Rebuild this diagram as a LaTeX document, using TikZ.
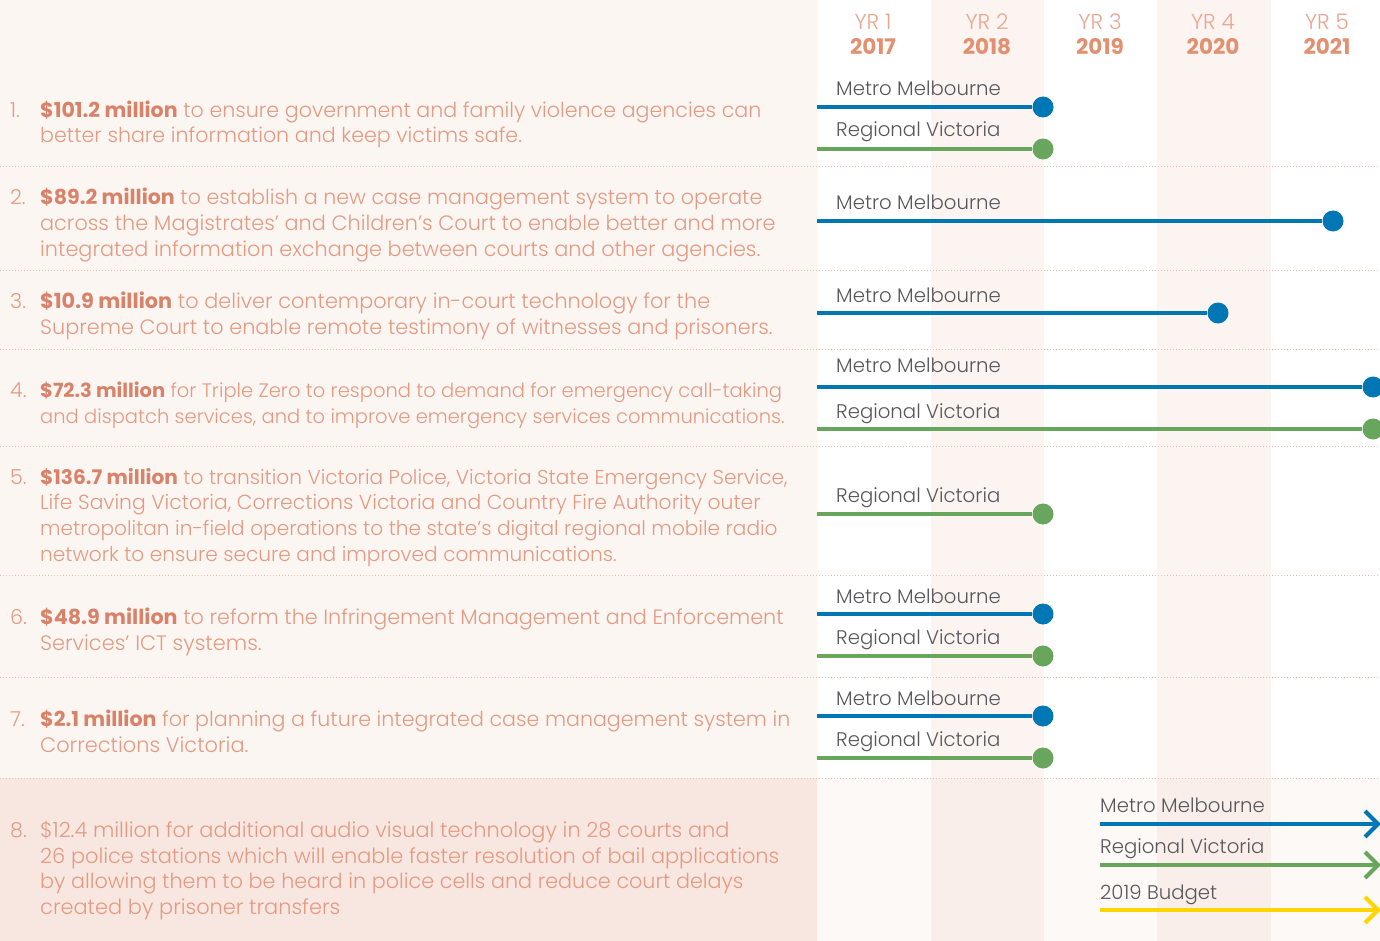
\documentclass[tikz,border=0pt]{standalone}
\usepackage{fontspec}
\setmainfont{Poppins}[UprightFont=*-Light,BoldFont=*-Bold]
\usetikzlibrary{positioning}
\definecolor{leftbg}{HTML}{FCF6F3}
\definecolor{pinkcol}{HTML}{FCF4F1}
\definecolor{rowleft}{HTML}{F8E7E0}
\definecolor{rowwhite}{HTML}{FDF9F7}
\definecolor{rowpink}{HTML}{F9EEE9}
\definecolor{bodytxt}{HTML}{E49A82}
\definecolor{amttxt}{HTML}{D9826A}
\definecolor{yrtxt}{HTML}{EBA58F}
\definecolor{yeartxt}{HTML}{E2906F}
\definecolor{labtxt}{HTML}{58585B}
\definecolor{mblue}{HTML}{0077B5}
\definecolor{rgreen}{HTML}{67A65C}
\definecolor{byellow}{HTML}{FFD500}
\definecolor{sepcol}{HTML}{F2BFAC}
\newcommand\amt[1]{{\bfseries\color{amttxt}#1}}
\tikzset{
  body/.style={anchor=base west,inner sep=0pt,text=bodytxt,font=\fontsize{#1}{25}\selectfont},
  body/.default=20.6,
  lab/.style={anchor=base west,inner sep=0pt,text=labtxt,font=\fontsize{19.7}{22}\selectfont},
  yr/.style={anchor=base,inner sep=0pt,text=yrtxt,font=\fontsize{21.5}{22}\selectfont},
  year/.style={anchor=base,inner sep=0pt,text=yeartxt,font=\fontsize{21.5}{22}\selectfont\bfseries},
  sep/.style={draw=sepcol,line width=1pt,dotted},
  bline/.style={draw=mblue,line width=4pt},
  gline/.style={draw=rgreen,line width=4pt},
  yline/.style={draw=byellow,line width=4pt},
  bdot/.style={circle,fill=mblue,minimum size=21pt,inner sep=0pt},
  gdot/.style={circle,fill=rgreen,minimum size=21pt,inner sep=0pt},
  chev/.style={line width=4pt,line cap=butt,line join=miter}
}
\begin{document}
\begin{tikzpicture}[x=1pt,y=-1pt]
\useasboundingbox (0,0) rectangle (1380,941);
% backgrounds
\fill[leftbg] (0,0) rectangle (817,778);
\fill[white] (817,0) rectangle (1380,778);
\fill[pinkcol] (931,0) rectangle (1044,778);
\fill[pinkcol] (1157,0) rectangle (1271,778);
\fill[rowleft] (0,778) rectangle (817,941);
\fill[rowwhite] (817,778) rectangle (1380,941);
\fill[rowpink] (931,778) rectangle (1044,941);
\fill[rowpink] (1157,778) rectangle (1271,941);
% separators
\foreach \yy in {167,270,349,446,575,677,778} \draw[sep] (0,\yy) -- (1380,\yy);
% header
\node[yr] (y1) at (873,30) {YR 1};
\node[year] (yy1) at (873,55) {2017};
\node[yr] (y2) at (987,30) {YR 2};
\node[year] (yy2) at (987,55) {2018};
\node[yr] (y3) at (1100,30) {YR 3};
\node[year] (yy3) at (1100,55) {2019};
\node[yr] (y4) at (1213,30) {YR 4};
\node[year] (yy4) at (1213,55) {2020};
\node[yr] (y5) at (1327,30) {YR 5};
\node[year] (yy5) at (1327,55) {2021};
% row texts
\node[body] (n1) at (10,118) {1.};
\node[body] (t1a) at (40,118) {\amt{\$101.2 million} to ensure government and family violence agencies can};
\node[body] (t1b) at (40,143) {better share information and keep victims safe.};
\node[body] (n2) at (10,205) {2.};
\node[body=20.6] (t2a) at (40,205) {\amt{\$89.2 million} to establish a new case management system to operate};
\node[body=20.8] (t2b) at (40,231) {across the Magistrates’ and Children’s Court to enable better and more};
\node[body=20.8] (t2c) at (40,256) {integrated information exchange between courts and other agencies.};
\node[body] (n3) at (10,308) {3.};
\node[body=20.8] (t3a) at (40,308) {\amt{\$10.9 million} to deliver contemporary in-court technology for the};
\node[body=20.8] (t3b) at (40,334) {Supreme Court to enable remote testimony of witnesses and prisoners.};
\node[body] (n4) at (10,397) {4.};
\node[body=19.5] (t4a) at (40,397) {\amt{\$72.3 million} for Triple Zero to respond to demand for emergency call-taking};
\node[body=19.5] (t4b) at (40,423) {and dispatch services, and to improve emergency services communications.};
\node[body] (n5) at (10,484) {5.};
\node[body=20.1] (t5a) at (40,484) {\amt{\$136.7 million} to transition Victoria Police, Victoria State Emergency Service,};
\node[body=20.3] (t5b) at (40,509) {Life Saving Victoria, Corrections Victoria and Country Fire Authority outer};
\node[body=20.1] (t5c) at (40,535) {metropolitan in-field operations to the state’s digital regional mobile radio};
\node[body=20.1] (t5d) at (40,561) {network to ensure secure and improved communications.};
\node[body] (n6) at (10,624) {6.};
\node[body=20.7] (t6a) at (40,624) {\amt{\$48.9 million} to reform the Infringement Management and Enforcement};
\node[body=20.9] (t6b) at (40,650) {Services’ ICT systems.};
\node[body] (n7) at (10,726) {7.};
\node[body=20.6] (t7a) at (40,726) {\amt{\$2.1 million} for planning a future integrated case management system in};
\node[body=20.9] (t7b) at (40,752) {Corrections Victoria.};
\node[body] (n8) at (10,837) {8.};
\node[body=20.9] (t8a) at (40,837) {\$12.4 million for additional audio visual technology in 28 courts and};
\node[body=20.9] (t8b) at (40,863) {26 police stations which will enable faster resolution of bail applications};
\node[body=20.7] (t8c) at (40,888) {by allowing them to be heard in police cells and reduce court delays};
\node[body=20.9] (t8d) at (40,914) {created by prisoner transfers};
% row 1
\node[lab] (l1m) at (836,96) {Metro Melbourne};
\coordinate (s1m) at (817,107); \node[bdot] (d1m) at (1043,107) {};
\draw[bline] (s1m) -- (d1m);
\node[lab] (l1r) at (836,137) {Regional Victoria};
\coordinate (s1r) at (817,149); \node[gdot] (d1r) at (1043,149) {};
\draw[gline] (s1r) -- (d1r);
% row 2
\node[lab] (l2m) at (836,210) {Metro Melbourne};
\coordinate (s2m) at (817,221); \node[bdot] (d2m) at (1333,221) {};
\draw[bline] (s2m) -- (d2m);
% row 3
\node[lab] (l3m) at (836,302) {Metro Melbourne};
\coordinate (s3m) at (817,313); \node[bdot] (d3m) at (1218,313) {};
\draw[bline] (s3m) -- (d3m);
% row 4
\node[lab] (l4m) at (836,372) {Metro Melbourne};
\coordinate (s4m) at (817,387); \node[bdot] (d4m) at (1373,387) {};
\draw[bline] (s4m) -- (d4m);
\node[lab] (l4r) at (836,418) {Regional Victoria};
\coordinate (s4r) at (817,429); \node[gdot] (d4r) at (1373,429) {};
\draw[gline] (s4r) -- (d4r);
% row 5
\node[lab] (l5r) at (836,502) {Regional Victoria};
\coordinate (s5r) at (817,514); \node[gdot] (d5r) at (1043,514) {};
\draw[gline] (s5r) -- (d5r);
% row 6
\node[lab] (l6m) at (836,603) {Metro Melbourne};
\coordinate (s6m) at (817,614); \node[bdot] (d6m) at (1043,614) {};
\draw[bline] (s6m) -- (d6m);
\node[lab] (l6r) at (836,644) {Regional Victoria};
\coordinate (s6r) at (817,656); \node[gdot] (d6r) at (1043,656) {};
\draw[gline] (s6r) -- (d6r);
% row 7
\node[lab] (l7m) at (836,705) {Metro Melbourne};
\coordinate (s7m) at (817,716); \node[bdot] (d7m) at (1043,716) {};
\draw[bline] (s7m) -- (d7m);
\node[lab] (l7r) at (836,746) {Regional Victoria};
\coordinate (s7r) at (817,758); \node[gdot] (d7r) at (1043,758) {};
\draw[gline] (s7r) -- (d7r);
% row 8
\node[lab] (l8m) at (1100,812) {Metro Melbourne};
\coordinate (s8m) at (1100,824); \coordinate (e8m) at (1378,824);
\draw[bline] (s8m) -- (e8m);
\draw[chev,draw=mblue] (1365,811) -- (1378,824) -- (1365,837);
\node[lab] (l8r) at (1100,853) {Regional Victoria};
\coordinate (s8r) at (1100,865); \coordinate (e8r) at (1378,865);
\draw[gline] (s8r) -- (e8r);
\draw[chev,draw=rgreen] (1365,852) -- (1378,865) -- (1365,878);
\node[lab] (l8y) at (1100,899) {2019 Budget};
\coordinate (s8y) at (1100,910); \coordinate (e8y) at (1378,910);
\draw[yline] (s8y) -- (e8y);
\draw[chev,draw=byellow] (1365,897) -- (1378,910) -- (1365,923);
\end{tikzpicture}
\end{document}
